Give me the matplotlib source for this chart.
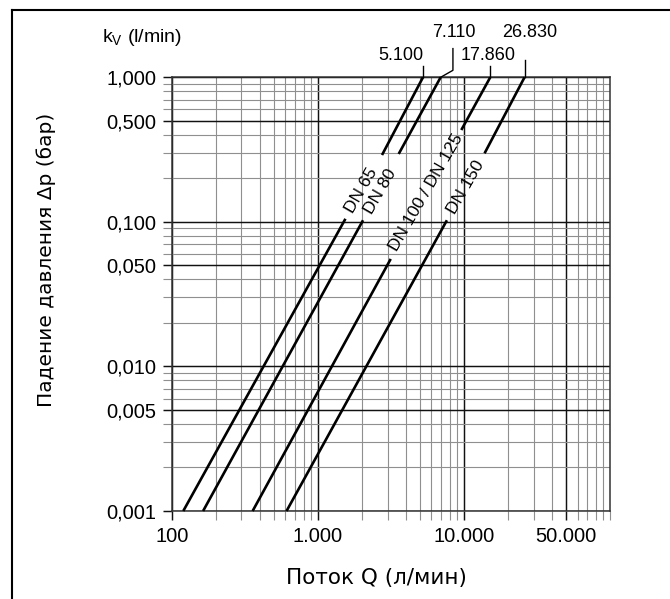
import numpy as np
import matplotlib
matplotlib.use("Agg")
import matplotlib.pyplot as plt
from matplotlib.ticker import FixedLocator, FixedFormatter, NullFormatter
from matplotlib.lines import Line2D

# ---------------- data ----------------
series = ["DN 65", "DN 80", "DN 100 / DN 125", "DN 150"]
kv_labels = ["5.100", "7.110", "17.860", "26.830"]
# flow Q (l/min) at the ends of each drawn segment
q_at_min = [120, 164, 358, 611]          # at dp = 0.001 bar
q_gap_start = [1546, 2040, 3155, 7650]   # top of lower segment
dp_gap_start = [0.105, 0.1026, 0.0554, 0.1026]
q_gap_end = [2751, 3578, 9600, 13850]    # bottom of upper segment
dp_gap_end = [0.290, 0.295, 0.432, 0.298]
q_at_max = [5248, 6930, 15150, 26000]    # at dp = 1 bar
dp_min, dp_max = 0.001, 1.0

x_ticks = [100, 1000, 10000, 50000]
x_tick_labels = ["100", "1.000", "10.000", "50.000"]
y_ticks = [0.001, 0.005, 0.01, 0.05, 0.1, 0.5, 1.0]
y_tick_labels = ["0,001", "0,005", "0,010", "0,050", "0,100", "0,500", "1,000"]

# ---------------- styling ----------------
plt.rcParams["font.family"] = ["Liberation Sans", "DejaVu Sans"]
plt.rcParams["mathtext.fontset"] = "custom"
plt.rcParams["mathtext.rm"] = "Liberation Sans"

MAJ_C, MIN_C = "#111111", "#8f8f8f"

fig = plt.figure(figsize=(6.7, 5.99), dpi=100)
W, H = 670.0, 599.0
ax = fig.add_axes([171.7 / W, 1 - 511 / H, (610 - 171.7) / W, (511 - 77.3) / H])
ax.set_xscale("log")
ax.set_yscale("log")
ax.set_xlim(100, 100000)
ax.set_ylim(dp_min, dp_max)

x_minor = [k * d for d in (100, 1000, 10000) for k in range(2, 10)
           if k * d not in x_ticks] + [100000]
y_minor = [k * d for d in (0.001, 0.01, 0.1) for k in range(2, 10) if k != 5]

ax.xaxis.set_major_locator(FixedLocator(x_ticks))
ax.xaxis.set_major_formatter(FixedFormatter(x_tick_labels))
ax.xaxis.set_minor_locator(FixedLocator(x_minor))
ax.xaxis.set_minor_formatter(NullFormatter())
ax.yaxis.set_major_locator(FixedLocator(y_ticks))
ax.yaxis.set_major_formatter(FixedFormatter(y_tick_labels))
ax.yaxis.set_minor_locator(FixedLocator(y_minor))
ax.yaxis.set_minor_formatter(NullFormatter())

ax.set_axisbelow(True)
ax.grid(which="major", color=MAJ_C, lw=1.05)
ax.grid(which="minor", color=MIN_C, lw=0.8)
ax.tick_params(which="both", direction="out", length=6.8, top=False, right=False)
ax.tick_params(which="major", color=MAJ_C, width=1.05, labelsize=14.5, pad=4.5)
ax.tick_params(which="minor", color=MIN_C, width=0.8)
for s in ax.spines.values():
    s.set_color("#333333")
    s.set_linewidth(1.1)

# ---------------- curves ----------------
for i in range(len(series)):
    ax.plot([q_at_min[i], q_gap_start[i]], [dp_min, dp_gap_start[i]],
            color="black", lw=1.9, solid_capstyle="butt", clip_on=False, zorder=3)
    ax.plot([q_gap_end[i], q_at_max[i]], [dp_gap_end[i], dp_max],
            color="black", lw=1.9, solid_capstyle="butt", clip_on=False, zorder=3)


def offset_data(q, dp, dx, dy):
    px, py = ax.transData.transform((q, dp))
    return ax.transData.inverted().transform((px + dx, py + dy))


# leader lines to the kv values (pixel offsets from the curve top)
leader_paths = [[(0, 0), (0, 11)],
                [(0, 0), (12.3, 7), (12.3, 28.7)],
                [(0, 0), (0, 11)],
                [(0, 0), (0, 17.5)]]
kv_text_offsets = [(0, 21.4, "right"), (13, 44.7, "center"),
                   (-2, 21.4, "center"), (5, 44.7, "center")]
for i in range(len(series)):
    pts = [offset_data(q_at_max[i], dp_max, dx, dy) for dx, dy in leader_paths[i]]
    pts = np.array(pts)
    ax.plot(pts[:, 0], pts[:, 1], color="black", lw=1.0, clip_on=False, zorder=3)
    dx, dy, ha = kv_text_offsets[i]
    ax.annotate(kv_labels[i], xy=(q_at_max[i], dp_max), xytext=(dx, dy),
                textcoords="offset pixels", ha=ha, va="center",
                fontsize=13, annotation_clip=False)

# DN labels along the curves
dn_offsets = [(15.8, 28.0), (17.2, 28.3), (35.7, 66.5), (19.4, 32.8)]
for i in range(len(series)):
    ax.annotate(series[i], xy=(q_gap_start[i], dp_gap_start[i]),
                xytext=dn_offsets[i], textcoords="offset pixels",
                rotation=60, ha="center", va="center", fontsize=12.5,
                annotation_clip=False)

# axis titles
fig.text(376 / W, 1 - 578 / H, "Поток Q (л/мин)", family="DejaVu Sans",
         fontsize=15.5, ha="center", va="center")
fig.text(46 / W, 1 - 260 / H, "Падение давления Δp (бар)", family="DejaVu Sans",
         fontsize=14.5, ha="center", va="center", rotation=90)
fig.text(101.7 / W, 1 - 42 / H, r"k$_{\mathregular{V}}$ (l/min)",
         fontsize=14, ha="left", va="baseline")

# outer frame (left and top edges visible)
fx, fy = 12 / W, 1 - 10 / H
fig.add_artist(Line2D([fx, fx], [fy, -0.01], transform=fig.transFigure,
                      color="black", lw=1.5))
fig.add_artist(Line2D([fx, 1.01], [fy, fy], transform=fig.transFigure,
                      color="black", lw=1.5))

fig.savefig("out.png", dpi=100)
